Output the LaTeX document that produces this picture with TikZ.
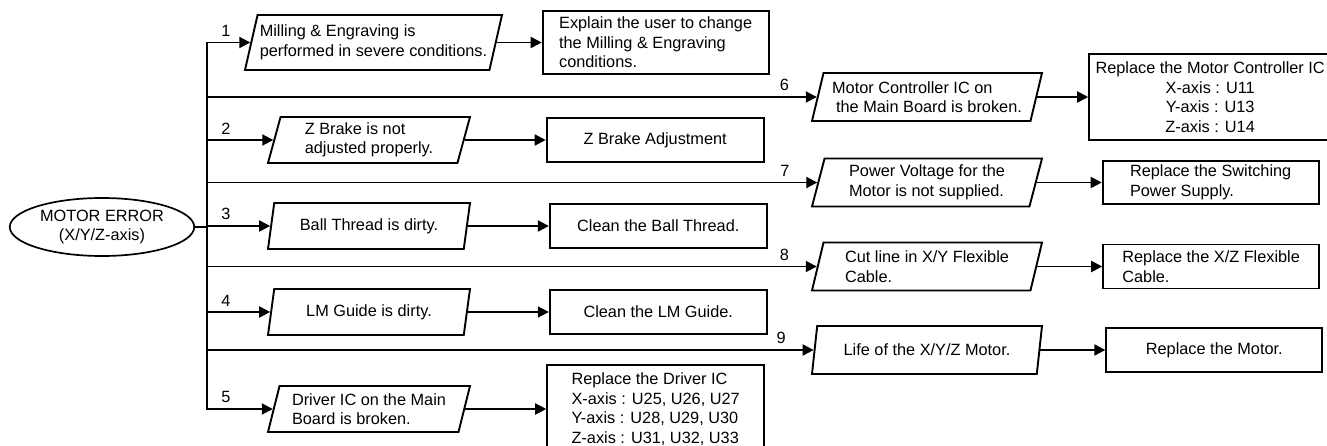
\documentclass[tikz,border=0pt]{standalone}
\usepackage{fontspec}
\setmainfont{Liberation Sans}
\usetikzlibrary{arrows.meta,positioning,shapes.geometric}

\begin{document}
\begin{tikzpicture}[
    x=1pt, y=-1pt,
    every node/.style={font=\fontsize{16.3}{19.5}\selectfont},
    cause/.style={trapezium, trapezium left angle=72, trapezium right angle=108,
                  trapezium stretches body, draw, line width=1.9pt,
                  minimum width=202pt, minimum height=46pt,
                  align=left, inner sep=2pt},
    fix/.style={rectangle, draw, line width=1.9pt,
                minimum width=217pt, minimum height=44pt, align=left},
    lnum/.style={inner sep=0pt, pos=0, anchor=south west, xshift=13.5pt, yshift=5pt},
    rnum/.style={inner sep=0pt, pos=1, anchor=south east, xshift=-27pt, yshift=5pt},
    arr/.style={-{Triangle[length=11pt, width=11pt]}, line width=1.9pt},
]
\useasboundingbox (0,0) rectangle (1327,446);

% Start node
\node[ellipse, draw, line width=1.7pt, minimum width=181pt, minimum height=58pt,
      align=center] (err) at (102,227) {MOTOR ERROR\\(X/Y/Z-axis)};
\coordinate (trunk) at (207,227);

% Causes, left column
\node[cause, minimum width=257pt, minimum height=55pt] (p1) at (373.5,42.5)
    {Milling \& Engraving is\\performed in severe conditions.};
\node[cause] (p2) at (369,140) {Z Brake is not\\adjusted properly.};
\node[cause] (p3) at (369,226) {Ball Thread is dirty.};
\node[cause] (p4) at (369,312) {LM Guide is dirty.};
\node[cause] (p5) at (369,409) {Driver IC on the Main\\Board is broken.};

% Causes, right column
\node[cause, minimum width=230pt, minimum height=48pt] (p6) at (927,97)
    {Motor Controller IC on\\\hspace*{4pt}the Main Board is broken.};
\node[cause, minimum width=230pt, minimum height=48pt] (p7) at (927,182.5)
    {Power Voltage for the\\Motor is not supplied.};
\node[cause, minimum width=230pt, minimum height=48pt] (p8) at (927,266.5)
    {Cut line in X/Y Flexible\\Cable.};
\node[cause, minimum width=230pt, minimum height=48pt] (p9) at (927,350)
    {Life of the X/Y/Z Motor.};

% Remedies
\node[fix, minimum width=226pt, minimum height=63pt, right=45pt of p1] (b1)
    {Explain the user to change\\the Milling \& Engraving\\conditions.};
\node[fix, right=81pt of p2] (b2) {Z Brake Adjustment};
\node[fix, right=81pt of p3] (b3) {Clean the Ball Thread.};
\node[fix, right=81pt of p4] (b4) {Clean the LM Guide.};
\node[fix, minimum height=88pt, right=81pt of p5] (b5)
    {Replace the Driver IC\\X-axis : U25, U26, U27\\Y-axis : U28, U29, U30\\Z-axis : U31, U32, U33};
\node[fix, minimum width=242pt, minimum height=86pt, align=center, right=51pt of p6] (b6)
    {Replace the Motor Controller IC\\X-axis : U11\\Y-axis : U13\\Z-axis : U14};
\node[fix, minimum width=216pt, minimum height=43pt, right=65pt of p7] (b7)
    {Replace the Switching\\Power Supply.};
\node[fix, minimum width=216pt, right=65pt of p8] (b8) {Replace the X/Z Flexible\\Cable.};
\node[fix, minimum width=216pt, right=65pt of p9] (b9) {Replace the Motor.};

% Branches
\draw[line width=1.7pt] (err.east) -- (trunk);
\draw[arr] (trunk) -- (trunk |- p1.west) -- node[lnum] {1} (p1.west);
\draw[arr] (trunk) -- (trunk |- p5.west) -- node[lnum] {5} (p5.west);
\draw[arr] (trunk |- p2.west) -- node[lnum] {2} (p2.west);
\draw[arr] (trunk |- p3.west) -- node[lnum] {3} (p3.west);
\draw[arr] (trunk |- p4.west) -- node[lnum] {4} (p4.west);
\draw[arr] (trunk |- p6.west) -- node[rnum] {6} (p6.west);
\draw[arr] (trunk |- p7.west) -- node[rnum] {7} (p7.west);
\draw[arr] (trunk |- p8.west) -- node[rnum] {8} (p8.west);
\draw[arr] (trunk |- p9.west) -- node[rnum] {9} (p9.west);

% Cause to remedy
\draw[arr] (p1.east) -- (b1.west);
\draw[arr] (p2.east) -- (b2.west);
\draw[arr] (p3.east) -- (b3.west);
\draw[arr] (p4.east) -- (b4.west);
\draw[arr] (p5.east) -- (b5.west);
\draw[arr] (p6.east) -- (b6.west);
\draw[arr] (p7.east) -- (b7.west);
\draw[arr] (p8.east) -- (b8.west);
\draw[arr] (p9.east) -- (b9.west);
\end{tikzpicture}
\end{document}
